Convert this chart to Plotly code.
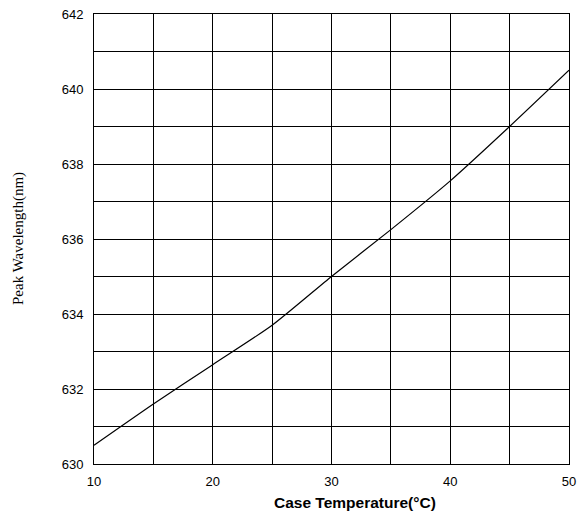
import plotly.graph_objects as go

# Case temperature (°C) vs peak wavelength (nm)
case_temp = [10, 15, 20, 25, 30, 35, 40, 45, 50]
peak_wavelength = [630.5, 631.6, 632.65, 633.7, 635.0, 636.25, 637.55, 639.0, 640.5]

x_grid = [10, 15, 20, 25, 30, 35, 40, 45, 50]
x_labels = ["10", "", "20", "", "30", "", "40", "", "50"]
y_grid = list(range(630, 643))
y_labels = [str(v) if v % 2 == 0 else "" for v in y_grid]

fig = go.Figure()
fig.add_trace(go.Scatter(
    x=case_temp, y=peak_wavelength, mode="lines",
    line=dict(color="black", width=1.2, shape="spline", smoothing=0.6),
    showlegend=False, hoverinfo="skip",
))

fig.update_layout(
    width=583, height=514,
    margin=dict(l=94, r=14, t=13.5, b=49.5, autoexpand=False),
    paper_bgcolor="white", plot_bgcolor="white",
    font=dict(family="Liberation Sans, Arial, sans-serif", size=13, color="black"),
    xaxis=dict(
        range=[10, 50], tickvals=x_grid, ticktext=x_labels,
        showgrid=True, gridcolor="black", gridwidth=1,
        showline=True, linecolor="black", linewidth=1, mirror=True,
        zeroline=False, ticks="", ticklabelstandoff=5, automargin=False,
    ),
    yaxis=dict(
        range=[630, 642], tickvals=y_grid, ticktext=y_labels,
        showgrid=True, gridcolor="black", gridwidth=1,
        showline=True, linecolor="black", linewidth=1, mirror=True,
        zeroline=False, ticks="", ticklabelstandoff=7, automargin=False,
    ),
    annotations=[
        dict(text="<b>Case Temperature(°C)</b>", xref="paper", yref="paper",
             x=0.5, y=-0.085, xanchor="center", yanchor="middle",
             xshift=23, showarrow=False,
             font=dict(family="Liberation Sans, Arial, sans-serif", size=15.5)),
        dict(text="Peak Wavelength(nm)", xref="paper", yref="paper",
             x=0, y=0.5, xanchor="center", yanchor="middle", xshift=-76,
             textangle=-90, showarrow=False,
             font=dict(family="Liberation Serif, Times New Roman, serif", size=15)),
    ],
)

fig.write_html("out.html")
